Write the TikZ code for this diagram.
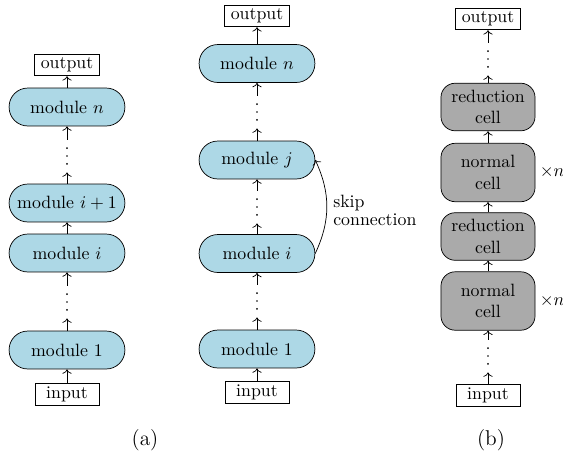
\documentclass[tikz,border=0pt]{standalone}
\usetikzlibrary{arrows.meta}
\definecolor{modblue}{RGB}{173,216,230}
\definecolor{cellgray}{RGB}{170,170,170}
\begin{document}
\begin{tikzpicture}[x=0.5613pt, y=-0.5613pt,
  module/.style={draw, fill=modblue, rounded corners=10.5pt, minimum width=65pt, minimum height=21.3pt, inner sep=2pt},
  iobox/.style={draw, minimum width=36pt, inner xsep=3.33pt, inner ysep=2pt},
  cell/.style={draw, fill=cellgray, rounded corners=8pt, minimum width=52.8pt, align=center, inner sep=2pt},
  redcell/.style={cell, minimum height=26.7pt},
  normcell/.style={cell, minimum height=32.8pt},
  dotsnode/.style={minimum width=3pt, minimum height=18pt, inner sep=0pt,
    path picture={\foreach \k in {-1,0,1}
      \fill ([yshift=\k*4.4pt]path picture bounding box.center) circle (0.55pt);}},
  arr/.style={->, line width=0.4pt},
  timesn/.style={anchor=west, inner xsep=2.3pt},
  caption/.style={font=\large}
]
\useasboundingbox (0,0) rectangle (563,454);

% ---------- column (a) left ----------
\node[iobox] (aout) at (67,65) {output};
\node[module] (amn) at (67,107) {module $n$};
\node[dotsnode] (ad1) at (67,156) {};
\node[module] (ami1) at (67,203) {module $i+1$};
\node[module] (ami) at (67,253) {module $i$};
\node[dotsnode] (ad2) at (67,302) {};
\node[module] (am1) at (67,350) {module 1};
\node[iobox] (ain) at (67,394) {input};
\draw[arr] (ain) -- (am1);
\draw[arr] (am1) -- (ad2);
\draw[arr] (ad2) -- (ami);
\draw[arr] (ami) -- (ami1);
\draw[arr] (ami1) -- (ad1);
\draw[arr] (ad1) -- (amn);
\draw[arr] (amn) -- (aout);

% ---------- column (a) middle ----------
\node[iobox] (bout) at (257,16) {output};
\node[module] (bmn) at (257,63.5) {module $n$};
\node[dotsnode] (bd1) at (257,112) {};
\node[module] (bmj) at (257,160) {module $j$};
\node[dotsnode] (bd2) at (257,207) {};
\node[module] (bmi) at (257,253.5) {module $i$};
\node[dotsnode] (bd3) at (257,301) {};
\node[module] (bm1) at (257,349) {module 1};
\node[iobox] (bin) at (257,392) {input};
\draw[arr] (bin) -- (bm1);
\draw[arr] (bm1) -- (bd3);
\draw[arr] (bd3) -- (bmi);
\draw[arr] (bmi) -- (bd2);
\draw[arr] (bd2) -- (bmj);
\draw[arr] (bmj) -- (bd1);
\draw[arr] (bd1) -- (bmn);
\draw[arr] (bmn) -- (bout);
\draw[arr] (bmi.east) to[bend right=25] (bmj.east);
\node[align=left, anchor=west] (skip) at (327,210) {skip\\[-2pt]connection};

% ---------- column (b) ----------
\node[iobox] (cout) at (488,19) {output};
\node[dotsnode] (cd1) at (488,59) {};
\node[redcell] (cr1) at (488,107) {reduction\\cell};
\node[normcell] (cn1) at (488,172.5) {normal\\cell};
\node[redcell] (cr2) at (488,236.5) {reduction\\cell};
\node[normcell] (cn2) at (488,301) {normal\\cell};
\node[dotsnode] (cd2) at (488,356) {};
\node[iobox] (cin) at (488,395) {input};
\draw[arr] (cin) -- (cd2);
\draw[arr] (cd2) -- (cn2);
\draw[arr] (cn2) -- (cr2);
\draw[arr] (cr2) -- (cn1);
\draw[arr] (cn1) -- (cr1);
\draw[arr] (cr1) -- (cd1);
\draw[arr] (cd1) -- (cout);
\node[timesn] (xn1) at (cn1.east) {$\times n$};
\node[timesn] (xn2) at (cn2.east) {$\times n$};

% ---------- captions ----------
\node[caption] (capa) at (145,440) {(a)};
\node[caption] (capb) at (491,440) {(b)};
\end{tikzpicture}
\end{document}
